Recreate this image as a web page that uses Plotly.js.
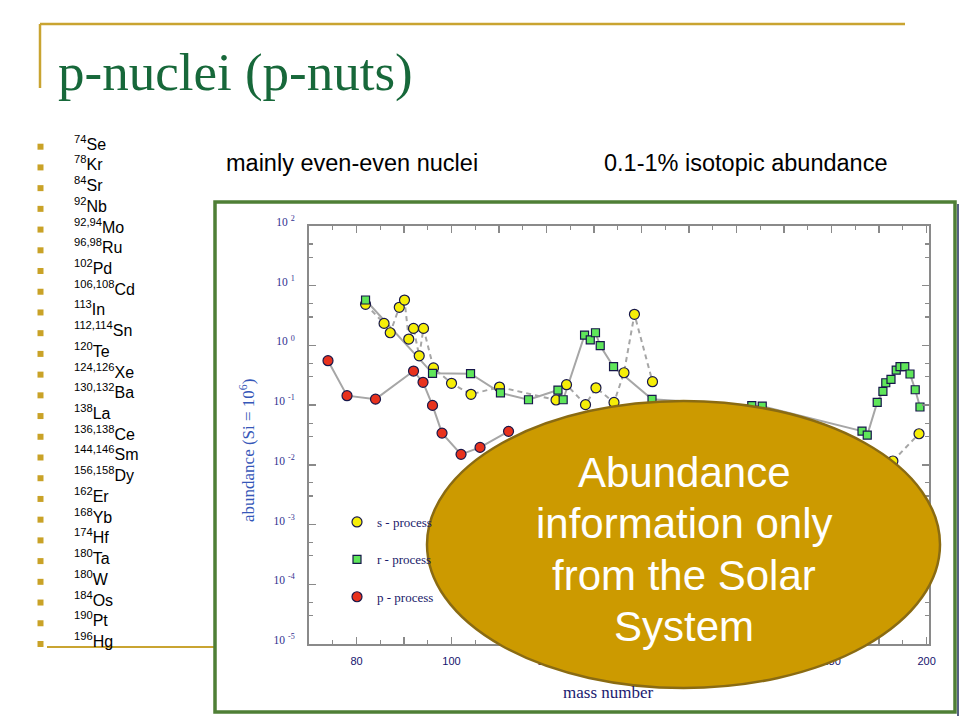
<!DOCTYPE html>
<html><head><meta charset="utf-8">
<script src="https://cdn.plot.ly/plotly-3.0.1.min.js"></script>
<style>html,body{margin:0;padding:0;background:#fff}#chart{width:960px;height:720px}</style>
</head><body><div id="chart"></div>
<script>
// ---- data ----
// s-process (yellow circles, dashed line); null = hidden behind the ellipse
const sMass  = [81.9, 85.8, 87.1, 89.0, 90.1, 91.0, 92.0, 93.2, 94.1, 96.2, 100.0, 104.1, 110.1, 122.0, 124.2, 128.2, 130.4, 134.2, 136.3, 138.5, 142.3, null, 192.9, 198.4];
const sAbund = [4.88, 2.34, 1.63, 4.35, 5.75, 1.28, 1.93, 0.67, 1.93, 0.42, 0.232, 0.152, 0.201, 0.122, 0.22, 0.102, 0.195, 0.111, 0.349, 3.32, 0.247, null, 0.0116, 0.0332];
// r-process (green squares, solid line)
const rMass  = [81.9, 96.0, 104.0, 110.3, 116.2, 122.4, 123.5, 128.0, 129.2, 130.3, 131.3, 134.1, 142.2, 163.2, 165.4, 186.4, 187.5, 189.6, 190.8, 191.4, 192.5, 193.6, 194.4, 195.4, 196.5, 197.6, 198.6];
const rAbund = [5.76, 0.341, 0.336, 0.161, 0.123, 0.179, 0.123, 1.49, 1.24, 1.63, 0.99, 0.44, 0.125, 0.098, 0.096, 0.0368, 0.0315, 0.111, 0.170, 0.237, 0.270, 0.387, 0.44, 0.44, 0.332, 0.181, 0.093];
// p-process (red circles, solid line)
const pMass  = [74, 78, 84, 92, 94, 96, 98, 102, 106, 112];
const pAbund = [0.555, 0.144, 0.126, 0.372, 0.241, 0.099, 0.034, 0.015, 0.0196, 0.0364];

const seriesNames = ['s - process', 'r - process', 'p - process'];
const xTickVals = [80, 90, 100, 110, 120, 130, 140, 150, 160, 170, 180, 190, 200];
const xTickText = ['80', '', '100', '', '120', '', '140', '', '160', '', '180', '', '200'];
const yExponents = [-5, -4, -3, -2, -1, 0, 1, 2];

const nuclei = [
  ['74','Se'],['78','Kr'],['84','Sr'],['92','Nb'],['92,94','Mo'],['96,98','Ru'],['102','Pd'],
  ['106,108','Cd'],['113','In'],['112,114','Sn'],['120','Te'],['124,126','Xe'],['130,132','Ba'],
  ['138','La'],['136,138','Ce'],['144,146','Sm'],['156,158','Dy'],['162','Er'],['168','Yb'],
  ['174','Hf'],['180','Ta'],['180','W'],['184','Os'],['190','Pt'],['196','Hg']
];
const titleText = 'p-nuclei (p-nuts)';
const note1 = 'mainly even-even nuclei';
const note2 = '0.1-1% isotopic abundance';
const bubbleLines = ['Abundance', 'information only', 'from the Solar', 'System'];

// ---- layout helpers ----
const W = 960, H = 720;
const PX = p => p / W;
const PY = p => 1 - p / H;

const LINE = '#a6a6a6';
const EDGE = '#17174a';
const traces = [
  {x: sMass, y: sAbund, mode: 'lines', line: {color: LINE, width: 2, dash: '5px,4px'}, showlegend: false, hoverinfo: 'skip'},
  {x: rMass, y: rAbund, mode: 'lines', line: {color: LINE, width: 2}, showlegend: false, hoverinfo: 'skip'},
  {x: pMass, y: pAbund, mode: 'lines', line: {color: LINE, width: 2}, showlegend: false, hoverinfo: 'skip'},
  {x: sMass, y: sAbund, mode: 'markers', name: seriesNames[0], legendgroup: 's',
   marker: {symbol: 'circle', size: 10, color: '#f6ee08', line: {color: EDGE, width: 1.2}}},
  {x: rMass, y: rAbund, mode: 'markers', name: seriesNames[1], legendgroup: 'r',
   marker: {symbol: 'square', size: 8, color: '#5fe65a', line: {color: EDGE, width: 1.2}}},
  {x: pMass, y: pAbund, mode: 'markers', name: seriesNames[2], legendgroup: 'p',
   marker: {symbol: 'circle', size: 10, color: '#e8321e', line: {color: EDGE, width: 1.2}}}
];

const shapes = [];
const annotations = [];
const GOLD = '#c9a431';

// chart picture frame
shapes.push({type: 'line', xref: 'paper', yref: 'paper', x0: PX(47), x1: PX(215), y0: PY(647), y1: PY(647), line: {color: GOLD, width: 2}, layer: 'below'});
shapes.push({type: 'rect', xref: 'paper', yref: 'paper', x0: PX(215), x1: PX(955), y0: PY(712), y1: PY(202), fillcolor: '#ffffff', line: {color: '#4f7f36', width: 3.5}, layer: 'below'});
shapes.push({type: 'line', xref: 'paper', yref: 'paper', x0: PX(958), x1: PX(958), y0: PY(716), y1: PY(204), line: {color: '#1f2d5a', width: 1.5}, layer: 'below'});
// slide title rule
shapes.push({type: 'line', xref: 'paper', yref: 'paper', x0: PX(40), x1: PX(905), y0: PY(24), y1: PY(24), line: {color: GOLD, width: 2.5}, layer: 'below'});
shapes.push({type: 'line', xref: 'paper', yref: 'paper', x0: PX(40), x1: PX(40), y0: PY(24), y1: PY(88), line: {color: GOLD, width: 2.5}, layer: 'below'});

// bullets
nuclei.forEach((n, i) => {
  const cy = 146.7 + 20.72 * i;
  shapes.push({type: 'rect', xref: 'paper', yref: 'paper', x0: PX(37.5), x1: PX(43.5), y0: PY(cy + 3), y1: PY(cy - 3), fillcolor: '#c9a227', line: {width: 0}, layer: 'below'});
  annotations.push({xref: 'paper', yref: 'paper', x: PX(72), y: PY(cy - 4), xanchor: 'left', yanchor: 'middle', showarrow: false,
    text: '<sup>' + n[0] + '</sup>' + n[1], font: {family: 'Liberation Sans, Arial, sans-serif', size: 16, color: '#000'}});
});

// ellipse callout
shapes.push({type: 'circle', xref: 'paper', yref: 'paper', x0: PX(427), x1: PX(940), y0: PY(688), y1: PY(401), fillcolor: '#cc9a00', line: {color: '#8a6b12', width: 2.5}, layer: 'above'});
bubbleLines.forEach((t, i) => {
  annotations.push({xref: 'paper', yref: 'paper', x: PX(684), y: PY(472 + 51.5 * i), xanchor: 'center', yanchor: 'middle', showarrow: false,
    text: t, font: {family: 'Liberation Sans, Arial, sans-serif', size: 42, color: '#ffffff'}});
});

// title and notes
annotations.push({xref: 'paper', yref: 'paper', x: PX(56), y: PY(73), xanchor: 'left', yanchor: 'middle', showarrow: false,
  text: titleText, font: {family: 'Liberation Serif, Times New Roman, serif', size: 53, color: '#17683a'}});
annotations.push({xref: 'paper', yref: 'paper', x: PX(224), y: PY(163), xanchor: 'left', yanchor: 'middle', showarrow: false,
  text: note1, font: {family: 'Liberation Sans, Arial, sans-serif', size: 23.5, color: '#000'}});
annotations.push({xref: 'paper', yref: 'paper', x: PX(602), y: PY(163), xanchor: 'left', yanchor: 'middle', showarrow: false,
  text: note2, font: {family: 'Liberation Sans, Arial, sans-serif', size: 23.5, color: '#000'}});

// axis titles
annotations.push({xref: 'paper', yref: 'paper', x: PX(247), y: PY(450), xanchor: 'center', yanchor: 'middle', showarrow: false, textangle: -90,
  text: 'abundance (Si = 10<sup>6</sup>)', font: {family: 'Liberation Serif, Times New Roman, serif', size: 17, color: '#3657b8'}});
annotations.push({xref: 'paper', yref: 'paper', x: PX(608), y: PY(692), xanchor: 'center', yanchor: 'middle', showarrow: false,
  text: 'mass number', font: {family: 'Liberation Serif, Times New Roman, serif', size: 17, color: '#1a1a70'}});

const yMinor = [];
yExponents.slice(0, -1).forEach(e => { yMinor.push(3 * Math.pow(10, e)); yMinor.push(5 * Math.pow(10, e)); });

const AX = '#8a8a8a';
const layout = {
  width: W, height: H,
  margin: {l: 0, r: 0, t: 0, b: 0},
  paper_bgcolor: '#ffffff', plot_bgcolor: '#ffffff',
  showlegend: true,
  legend: {x: PX(337), y: PY(507), xanchor: 'left', yanchor: 'top', bgcolor: 'rgba(0,0,0,0)', borderwidth: 0,
    tracegroupgap: 17.5, itemwidth: 30,
    font: {family: 'Liberation Serif, Times New Roman, serif', size: 13, color: '#1a1a6a'}},
  xaxis: {
    domain: [PX(309), PX(929)], range: [70, 200.5], anchor: 'y',
    showgrid: false, zeroline: false, showline: true, linecolor: AX, linewidth: 2, mirror: 'ticks',
    ticks: 'inside', ticklen: 7, tickwidth: 1.5, tickcolor: AX,
    tickmode: 'array', tickvals: xTickVals, ticktext: xTickText, ticklabelstandoff: 6,
    tickfont: {family: 'Liberation Sans, Arial, sans-serif', size: 11, color: '#14146e'},
    minor: {dtick: 5, tick0: 0, ticks: 'inside', ticklen: 4, tickwidth: 1.2, tickcolor: AX, showgrid: false}
  },
  yaxis: {
    domain: [1 - 644 / H, 1 - 226 / H], type: 'log', range: [-5, 2], anchor: 'x',
    showgrid: false, zeroline: false, showline: true, linecolor: AX, linewidth: 2, mirror: 'ticks',
    ticks: 'inside', ticklen: 7, tickwidth: 1.5, tickcolor: AX,
    tickmode: 'array', tickvals: yExponents.map(e => Math.pow(10, e)),
    ticktext: yExponents.map(e => '10 <sup>' + e + '</sup>'),
    ticklabelstandoff: 10, ticklabelshift: -4,
    tickfont: {family: 'Liberation Serif, Times New Roman, serif', size: 11.5, color: '#30308f'},
    minor: {tickmode: 'array', tickvals: yMinor, ticks: 'inside', ticklen: 4, tickwidth: 1.2, tickcolor: AX, showgrid: false}
  },
  shapes: shapes,
  annotations: annotations
};

Plotly.newPlot('chart', traces, layout, {staticPlot: true, displayModeBar: false});
</script></body></html>
